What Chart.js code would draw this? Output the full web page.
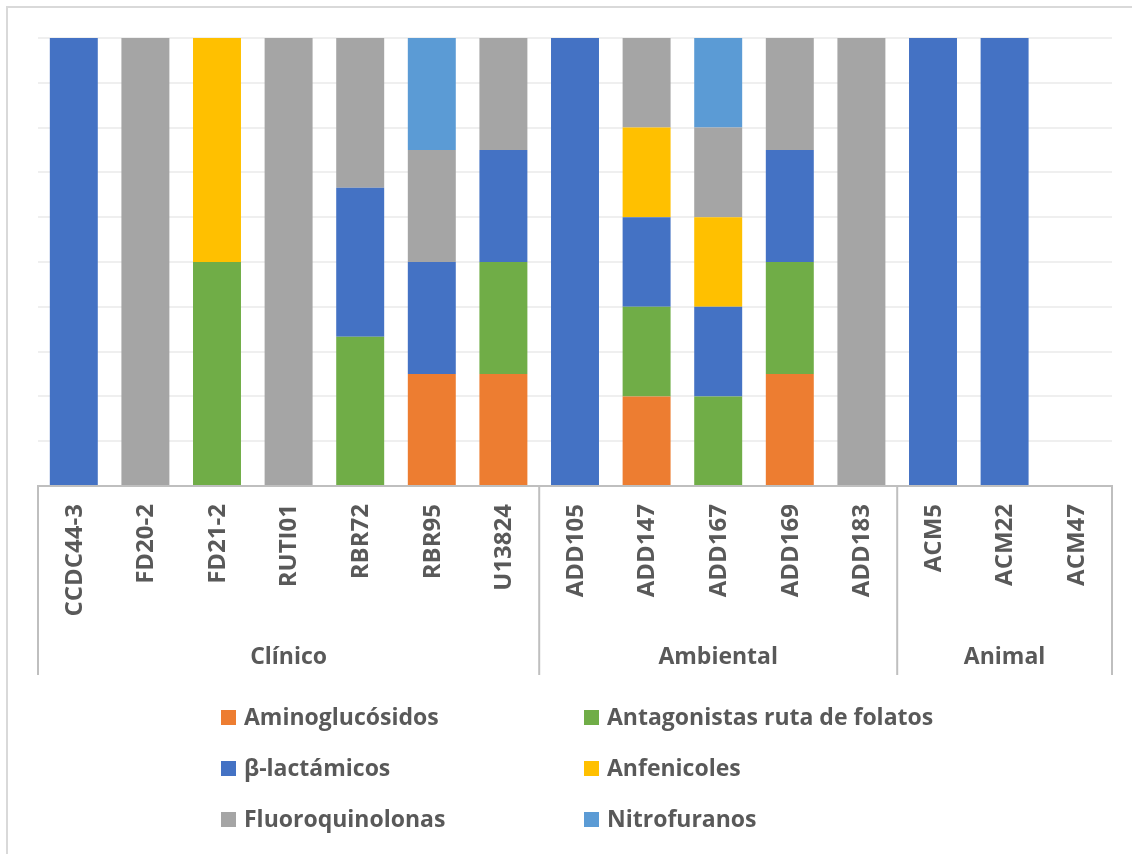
<!DOCTYPE html>
<html>
<head>
<meta charset="utf-8">
<script src="https://cdn.jsdelivr.net/npm/chart.js@4/dist/chart.umd.min.js"></script>
<style>
  html, body { margin: 0; padding: 0; background: #ffffff; }
  #wrap { position: relative; width: 1132px; height: 854px; }
</style>
</head>
<body>
<div id="wrap"><canvas id="c" width="1132" height="854"></canvas></div>
<script>
// Isolates and their origin groups
const categories = ['CCDC44-3', 'FD20-2', 'FD21-2', 'RUTI01', 'RBR72', 'RBR95', 'U13824',
                    'ADD105', 'ADD147', 'ADD167', 'ADD169', 'ADD183',
                    'ACM5', 'ACM22', 'ACM47'];
const groupNames = ['Clínico', 'Ambiental', 'Animal'];
const groupSizes = [7, 5, 3];

// Share (%) of each antibiotic family per isolate
const aminoglucosidos  = [0, 0, 0, 0, 0, 25, 25, 0, 20, 0, 25, 0, 0, 0, 0];
const antagonistas     = [0, 0, 50, 0, 33.3, 0, 25, 0, 20, 20, 25, 0, 0, 0, 0];
const betaLactamicos   = [100, 0, 0, 0, 33.3, 25, 25, 100, 20, 20, 25, 0, 100, 100, 0];
const anfenicoles      = [0, 0, 50, 0, 0, 0, 0, 0, 20, 20, 0, 0, 0, 0, 0];
const fluoroquinolonas = [0, 100, 0, 100, 33.4, 25, 25, 0, 20, 20, 25, 100, 0, 0, 0];
const nitrofuranos     = [0, 0, 0, 0, 0, 25, 0, 0, 0, 20, 0, 0, 0, 0, 0];

const seriesNames = ['Aminoglucósidos', 'Antagonistas ruta de folatos', 'β-lactámicos',
                     'Anfenicoles', 'Fluoroquinolonas', 'Nitrofuranos'];
const seriesData = [aminoglucosidos, antagonistas, betaLactamicos, anfenicoles, fluoroquinolonas, nitrofuranos];
const seriesColors = ['#ED7D31', '#70AD47', '#4472C4', '#FFC000', '#A5A5A5', '#5B9BD5'];

const FONT = '"Open Sans", "DejaVu Sans", sans-serif';
const TEXT = '#595959';
const AXIS = '#BFBFBF';

// Frame around the whole chart
const framePlugin = {
  id: 'frame',
  beforeDraw(chart) {
    const ctx = chart.ctx;
    ctx.save();
    ctx.strokeStyle = '#D9D9D9';
    ctx.lineWidth = 2;
    ctx.beginPath();
    ctx.moveTo(7, 860);
    ctx.lineTo(7, 7);
    ctx.lineTo(1140, 7);
    ctx.stroke();
    ctx.restore();
  }
};

// Two-level category axis: isolate names, group names and group dividers
const multiAxisPlugin = {
  id: 'multiAxis',
  afterDraw(chart) {
    const ctx = chart.ctx;
    const xs = chart.scales.x;
    const area = chart.chartArea;
    const axisY = area.bottom;
    const lineBottom = 675;
    ctx.save();

    // isolate names, rotated
    ctx.fillStyle = TEXT;
    ctx.font = 'bold 24px ' + FONT;
    ctx.textAlign = 'right';
    ctx.textBaseline = 'middle';
    categories.forEach((name, i) => {
      const x = xs.getPixelForValue(i);
      ctx.save();
      ctx.translate(x, 504);
      ctx.rotate(-Math.PI / 2);
      ctx.fillText(name, 0, 1);
      ctx.restore();
    });

    // group dividers and group names
    ctx.strokeStyle = AXIS;
    ctx.lineWidth = 2;
    let start = 0;
    const edges = [area.left];
    groupSizes.forEach(n => {
      start += n;
      edges.push(start === categories.length ? area.right : xs.getPixelForValue(start - 0.5));
    });
    edges.forEach(x => {
      ctx.beginPath();
      ctx.moveTo(x, axisY);
      ctx.lineTo(x, lineBottom);
      ctx.stroke();
    });
    ctx.font = 'bold 23px ' + FONT;
    ctx.textAlign = 'center';
    groupNames.forEach((g, k) => {
      ctx.fillText(g, (edges[k] + edges[k + 1]) / 2, 657);
    });

    // legend: two columns, three rows
    const colX = [221, 584];
    const rowY = [717, 768, 819];
    ctx.font = 'bold 23px ' + FONT;
    ctx.textAlign = 'left';
    chart.data.datasets.forEach((ds, i) => {
      const cx = colX[i % 2];
      const cy = rowY[Math.floor(i / 2)];
      ctx.fillStyle = ds.backgroundColor;
      ctx.fillRect(cx, cy - 7, 15, 15);
      ctx.fillStyle = TEXT;
      ctx.fillText(ds.label, cx + 23, cy + 1);
    });
    ctx.restore();
  }
};

new Chart(document.getElementById('c'), {
  type: 'bar',
  data: {
    labels: categories,
    datasets: seriesNames.map((name, i) => ({
      label: name,
      data: seriesData[i],
      backgroundColor: seriesColors[i],
      borderWidth: 0,
      categoryPercentage: 1,
      barPercentage: 0.67
    }))
  },
  options: {
    responsive: false,
    animation: false,
    layout: { padding: { left: 38, top: 38, right: 20, bottom: 368 } },
    plugins: { legend: { display: false }, tooltip: { enabled: false } },
    scales: {
      x: {
        stacked: true,
        ticks: { display: false },
        grid: { display: false, drawTicks: false },
        border: { display: true, color: AXIS, width: 2 }
      },
      y: {
        stacked: true,
        min: 0,
        max: 100,
        ticks: { display: false, stepSize: 10 },
        grid: { color: '#EFEFEF', lineWidth: 2, drawTicks: false },
        border: { display: false }
      }
    }
  },
  plugins: [framePlugin, multiAxisPlugin]
});
</script>
</body>
</html>
